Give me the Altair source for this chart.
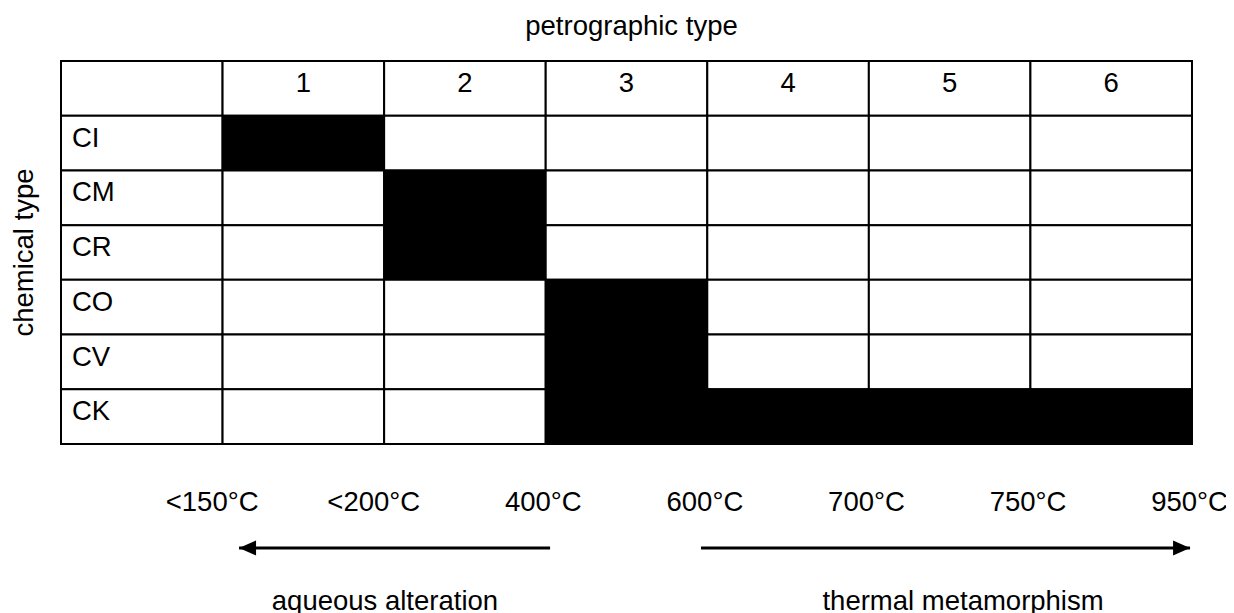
import altair as alt
import pandas as pd

# ---------------- data ----------------
chemical_types = ["CI", "CM", "CR", "CO", "CV", "CK"]
petrographic_types = [1, 2, 3, 4, 5, 6]
occupied = {
    "CI": [1],
    "CM": [2],
    "CR": [2],
    "CO": [3],
    "CV": [3],
    "CK": [3, 4, 5, 6],
}
temperature_labels = ["<150°C", "<200°C", "400°C", "600°C", "700°C", "750°C", "950°C"]
process_labels = ["aqueous alteration", "thermal metamorphism"]
x_title = "petrographic type"
y_title = "chemical type"

# ---------------- layout ----------------
W, H = 1218, 605
COL_PX, ROW_PX = 161.57, 54.71
GRID_LEFT, GRID_TOP = 53, 53
NCOL = len(petrographic_types) + 1
NROW = len(chemical_types) + 1

x_dom = [-GRID_LEFT / COL_PX, NCOL + (W - GRID_LEFT - NCOL * COL_PX) / COL_PX]
y_dom = [-GRID_TOP / ROW_PX, NROW + (H - GRID_TOP - NROW * ROW_PX) / ROW_PX]

TITLE_ROW = -0.475
TEMP_ROW = 8.225
ARROW_ROW = 8.90
PROCESS_ROW = 10.03
PROCESS_X = [2.005, 5.583]
ARROWS = [(3.027, 1.102), (3.961, 6.988)]  # (tail, tip) in column units
YTITLE_X = -0.173

FONT = "Liberation Sans"
FS = 27.5

xs = alt.Scale(domain=x_dom, nice=False, zero=False)
ys = alt.Scale(domain=y_dom, nice=False, zero=False, reverse=True)


def X(f):
    return alt.X(f, type="quantitative", scale=xs, axis=None)


def X2(f):
    return alt.X2(f)


def Y(f):
    return alt.Y(f, type="quantitative", scale=ys, axis=None)


# ---------------- tables ----------------
cells = []
for r in range(NROW):
    for c in range(NCOL):
        filled = False
        if r >= 1 and c >= 1:
            filled = petrographic_types[c - 1] in occupied[chemical_types[r - 1]]
        cells.append({"c": c, "c2": c + 1, "r": r, "r2": r + 1,
                      "fill": "black" if filled else "white"})
cells_df = pd.DataFrame(cells)

header_df = pd.DataFrame({"c": [i + 1.5 for i in range(len(petrographic_types))],
                          "r": 0, "t": [str(p) for p in petrographic_types]})
rowlab_df = pd.DataFrame({"c": 0, "r": [i + 1 for i in range(len(chemical_types))],
                          "t": chemical_types})
temp_df = pd.DataFrame({"c": [i + 1 for i in range(len(temperature_labels))],
                        "r": TEMP_ROW, "t": temperature_labels})
proc_df = pd.DataFrame({"c": PROCESS_X, "r": PROCESS_ROW, "t": process_labels})
xt_df = pd.DataFrame({"c": [NCOL / 2], "r": [TITLE_ROW], "t": [x_title]})
yt_df = pd.DataFrame({"c": [YTITLE_X], "r": [NROW / 2], "t": [y_title]})
arrow_df = pd.DataFrame({"tail": [a[0] for a in ARROWS], "tip": [a[1] for a in ARROWS],
                         "r": ARROW_ROW, "dir": ["left", "right"]})

# ---------------- layers ----------------
grid = alt.Chart(cells_df).mark_rect(stroke="black", strokeWidth=2).encode(
    x=X("c"), x2=X2("c2"), y=Y("r"), y2=alt.Y2("r2"),
    fill=alt.Fill("fill:N", scale=None),
)

header = alt.Chart(header_df).mark_text(
    font=FONT, fontSize=FS, align="center", baseline="alphabetic", dy=31, color="black"
).encode(x=X("c"), y=Y("r"), text="t:N")

rowlab = alt.Chart(rowlab_df).mark_text(
    font=FONT, fontSize=FS, align="left", baseline="alphabetic", dx=11, dy=31, color="black"
).encode(x=X("c"), y=Y("r"), text="t:N")

temps = alt.Chart(temp_df).mark_text(
    font=FONT, fontSize=FS, align="right", baseline="alphabetic", dx=36, color="black"
).encode(x=X("c"), y=Y("r"), text="t:N")

procs = alt.Chart(proc_df).mark_text(
    font=FONT, fontSize=FS, align="center", baseline="alphabetic", color="black"
).encode(x=X("c"), y=Y("r"), text="t:N")

xtitle = alt.Chart(xt_df).mark_text(
    font=FONT, fontSize=FS, align="center", baseline="alphabetic", dx=5, color="black"
).encode(x=X("c"), y=Y("r"), text="t:N")

ytitle = alt.Chart(yt_df).mark_text(
    font=FONT, fontSize=FS, align="center", baseline="alphabetic", angle=270, color="black"
).encode(x=X("c"), y=Y("r"), text="t:N")

shafts = alt.Chart(arrow_df).mark_rule(color="black", strokeWidth=3).encode(
    x=X("tail"), x2=X2("tip"), y=Y("r")
)

head_left = alt.Chart(arrow_df).transform_filter("datum.dir == 'left'").mark_point(
    shape="M0,0L2,-0.88L2,0.88Z", filled=True, fill="black", color="black",
    size=289, opacity=1, strokeWidth=0
).encode(x=X("tip"), y=Y("r"))

head_right = alt.Chart(arrow_df).transform_filter("datum.dir == 'right'").mark_point(
    shape="M0,0L-2,-0.88L-2,0.88Z", filled=True, fill="black", color="black",
    size=289, opacity=1, strokeWidth=0
).encode(x=X("tip"), y=Y("r"))

chart = alt.layer(
    grid, header, rowlab, temps, procs, xtitle, ytitle, shafts, head_left, head_right
).properties(
    width=W, height=H, autosize=alt.AutoSizeParams(type="none"), padding=0,
    background="white"
).configure_view(stroke=None)

chart.save("out.html", embed_options={"renderer": "svg", "actions": False})
